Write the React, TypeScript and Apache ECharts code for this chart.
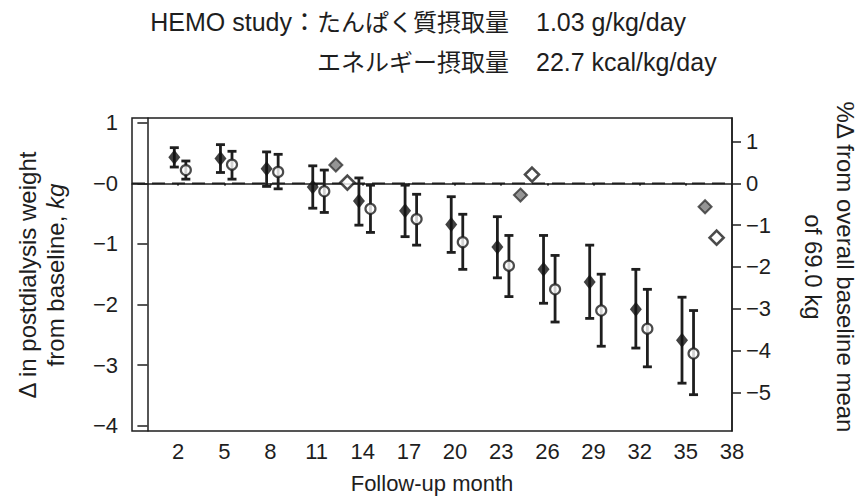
import React, { useEffect, useRef } from "react";
import * as echarts from "echarts";

// Follow-up months (tick positions)
const months = [2, 5, 8, 11, 14, 17, 20, 23, 26, 29, 32, 35];
const xTicks = [2, 5, 8, 11, 14, 17, 20, 23, 26, 29, 32, 35, 38];
const leftTicks = [-4, -3, -2, -1, 0, 1];
const rightTicks = [-5, -4, -3, -2, -1, 0, 1];

// Group A (filled diamonds): mean, lower, upper (kg)
const aMean = [0.43, 0.41, 0.24, -0.06, -0.29, -0.45, -0.68, -1.05, -1.42, -1.63, -2.08, -2.59];
const aLow = [0.27, 0.18, -0.05, -0.41, -0.69, -0.88, -1.14, -1.56, -1.98, -2.23, -2.72, -3.3];
const aHigh = [0.59, 0.64, 0.52, 0.29, 0.09, -0.03, -0.22, -0.55, -0.86, -1.02, -1.42, -1.88];

// Group B (open circles): mean, lower, upper (kg)
const bMean = [0.22, 0.31, 0.19, -0.13, -0.42, -0.59, -0.97, -1.36, -1.75, -2.1, -2.4, -2.81];
const bLow = [0.07, 0.07, -0.09, -0.48, -0.81, -1.02, -1.42, -1.87, -2.29, -2.69, -3.03, -3.49];
const bHigh = [0.37, 0.53, 0.48, 0.22, -0.03, -0.18, -0.51, -0.86, -1.19, -1.5, -1.75, -2.1];

// Annual % change from overall baseline mean (right axis)
const pctMonthsGray = [12.25, 24.25, 36.25];
const pctGray = [0.44, -0.28, -0.56];
const pctMonthsOpen = [13, 25, 37];
const pctOpen = [0.02, 0.21, -1.3];

// Reference line (no change)
const zeroLine = [[-1, 0], [38, 0]];

const BASELINE_KG = 69.0;
const LEFT_MIN = -4.09;
const LEFT_MAX = 1.08;
const OFFSET_A = -0.25;
const OFFSET_B = 0.5;

const FONT = "'Liberation Sans', Arial, Helvetica, sans-serif";
const CJK = "'Liberation Sans', 'Noto Sans CJK JP', sans-serif";
const INK = "#1e1e1e";

const minus = (v: number) => (v < 0 ? "\u2212" + Math.abs(v) : String(v));

function errorBarSeries(offset: number, low: number[], high: number[]) {
  return {
    type: "custom",
    yAxisIndex: 0,
    silent: true,
    z: 2,
    data: months.map((m, i) => [m + offset, low[i], high[i]]),
    renderItem: (params: any, api: any) => {
      const x = api.value(0);
      const lo = api.coord([x, api.value(1)]);
      const hi = api.coord([x, api.value(2)]);
      const cap = 4.5;
      const style = { stroke: INK, lineWidth: 2.8 };
      return {
        type: "group",
        children: [
          { type: "line", shape: { x1: lo[0], y1: lo[1], x2: hi[0], y2: hi[1] }, style },
          { type: "line", shape: { x1: lo[0] - cap, y1: lo[1], x2: lo[0] + cap, y2: lo[1] }, style },
          { type: "line", shape: { x1: hi[0] - cap, y1: hi[1], x2: hi[0] + cap, y2: hi[1] }, style },
        ],
      };
    },
  };
}

export default function App() {
  const ref = useRef<HTMLDivElement>(null);
  useEffect(() => {
    if (!ref.current) return;
    const chart = echarts.init(ref.current, null, { renderer: "svg" });
    const option: any = {
      animation: false,
      backgroundColor: "#ffffff",
      grid: {
        left: 132,
        right: 125,
        top: 118,
        bottom: 65,
        show: true,
        borderColor: INK,
        borderWidth: 1.5,
        backgroundColor: "transparent",
      },
      xAxis: {
        type: "value",
        min: -1,
        max: 38,
        axisLine: { show: true, lineStyle: { color: INK, width: 1.5 } },
        axisTick: { show: true, length: 2, customValues: xTicks, lineStyle: { color: INK, width: 2 } },
        axisLabel: {
          customValues: xTicks,
          margin: 9,
          color: INK,
          fontSize: 22,
          fontFamily: FONT,
        },
        splitLine: { show: false },
      },
      yAxis: [
        {
          type: "value",
          min: LEFT_MIN,
          max: LEFT_MAX,
          position: "left",
          axisLine: { show: true, lineStyle: { color: INK, width: 1.5 } },
          axisTick: { show: true, length: 10, customValues: leftTicks, lineStyle: { color: INK, width: 1.5 } },
          axisLabel: {
            customValues: leftTicks,
            margin: 14,
            color: INK,
            fontSize: 22,
            fontFamily: FONT,
            formatter: (v: number) => (v === 0 ? "\u22120" : minus(v)),
          },
          splitLine: { show: false },
        },
        {
          type: "value",
          min: (LEFT_MIN * 100) / BASELINE_KG,
          max: (LEFT_MAX * 100) / BASELINE_KG,
          position: "right",
          axisLine: { show: true, lineStyle: { color: INK, width: 1.5 } },
          axisTick: { show: true, length: 9, customValues: rightTicks, lineStyle: { color: INK, width: 1.5 } },
          axisLabel: {
            customValues: rightTicks,
            margin: 14,
            color: INK,
            fontSize: 22,
            fontFamily: FONT,
            formatter: (v: number) => minus(v),
          },
          splitLine: { show: false },
        },
      ],
      series: [
        {
          type: "line",
          yAxisIndex: 0,
          z: 1,
          silent: true,
          symbol: "none",
          lineStyle: { color: INK, width: 1.8, type: [13, 7] },
          data: zeroLine,
        },
        errorBarSeries(OFFSET_A, aLow, aHigh),
        errorBarSeries(OFFSET_B, bLow, bHigh),
        {
          type: "scatter",
          yAxisIndex: 0,
          z: 3,
          symbol: "diamond",
          symbolSize: [12, 15],
          itemStyle: { color: "#111" },
          data: months.map((m, i) => [m + OFFSET_A, aMean[i]]),
        },
        {
          type: "scatter",
          yAxisIndex: 0,
          z: 3,
          symbol: "circle",
          symbolSize: 10,
          itemStyle: { color: "#ffffff", borderColor: INK, borderWidth: 2.2 },
          data: months.map((m, i) => [m + OFFSET_B, bMean[i]]),
        },
        {
          type: "scatter",
          yAxisIndex: 1,
          z: 3,
          symbol: "diamond",
          symbolSize: 13,
          itemStyle: { color: "#7a7a7a", borderColor: "#333", borderWidth: 2 },
          data: pctMonthsGray.map((m, i) => [m, pctGray[i]]),
        },
        {
          type: "scatter",
          yAxisIndex: 1,
          z: 3,
          symbol: "diamond",
          symbolSize: 14,
          itemStyle: { color: "#ffffff", borderColor: INK, borderWidth: 2.6 },
          data: pctMonthsOpen.map((m, i) => [m, pctOpen[i]]),
        },
      ],
      graphic: [
        {
          type: "text",
          x: 317,
          y: 22,
          style: { text: "HEMO study：", font: `25px ${CJK}`, fill: INK, textAlign: "right", textVerticalAlign: "middle" },
        },
        {
          type: "text",
          x: 317,
          y: 22,
          style: { text: "たんぱく質摂取量", font: `24px ${CJK}`, fill: INK, textAlign: "left", textVerticalAlign: "middle" },
        },
        {
          type: "text",
          x: 536,
          y: 22,
          style: { text: "1.03 g/kg/day", font: `25px ${FONT}`, fill: INK, textAlign: "left", textVerticalAlign: "middle" },
        },
        {
          type: "text",
          x: 317,
          y: 62,
          style: { text: "エネルギー摂取量", font: `24px ${CJK}`, fill: INK, textAlign: "left", textVerticalAlign: "middle" },
        },
        {
          type: "text",
          x: 536,
          y: 62,
          style: { text: "22.7 kcal/kg/day", font: `25px ${FONT}`, fill: INK, textAlign: "left", textVerticalAlign: "middle" },
        },
        {
          type: "text",
          x: 41,
          y: 275,
          rotation: Math.PI / 2,
          style: {
            text: "Δ in postdialysis weight\nfrom baseline, {i|kg}",
            font: `24px ${FONT}`,
            fill: INK,
            textAlign: "center",
            textVerticalAlign: "middle",
            lineHeight: 28,
            rich: { i: { fontStyle: "italic", fontSize: 24, fontFamily: FONT, fill: INK } },
          },
        },
        {
          type: "text",
          x: 829,
          y: 267,
          rotation: -Math.PI / 2,
          style: {
            text: "%Δ from overall baseline mean\nof 69.0 kg",
            font: `24px ${FONT}`,
            fill: INK,
            textAlign: "center",
            textVerticalAlign: "middle",
            lineHeight: 32,
          },
        },
        {
          type: "text",
          x: 432,
          y: 483,
          style: { text: "Follow-up month", font: `22px ${FONT}`, fill: INK, textAlign: "center", textVerticalAlign: "middle" },
        },
      ],
    };
    chart.setOption(option);
    return () => chart.dispose();
  }, []);
  return (
    <div
      ref={ref}
      style={{ position: "fixed", left: 0, top: 0, width: 857, height: 496, background: "#fff" }}
    />
  );
}
